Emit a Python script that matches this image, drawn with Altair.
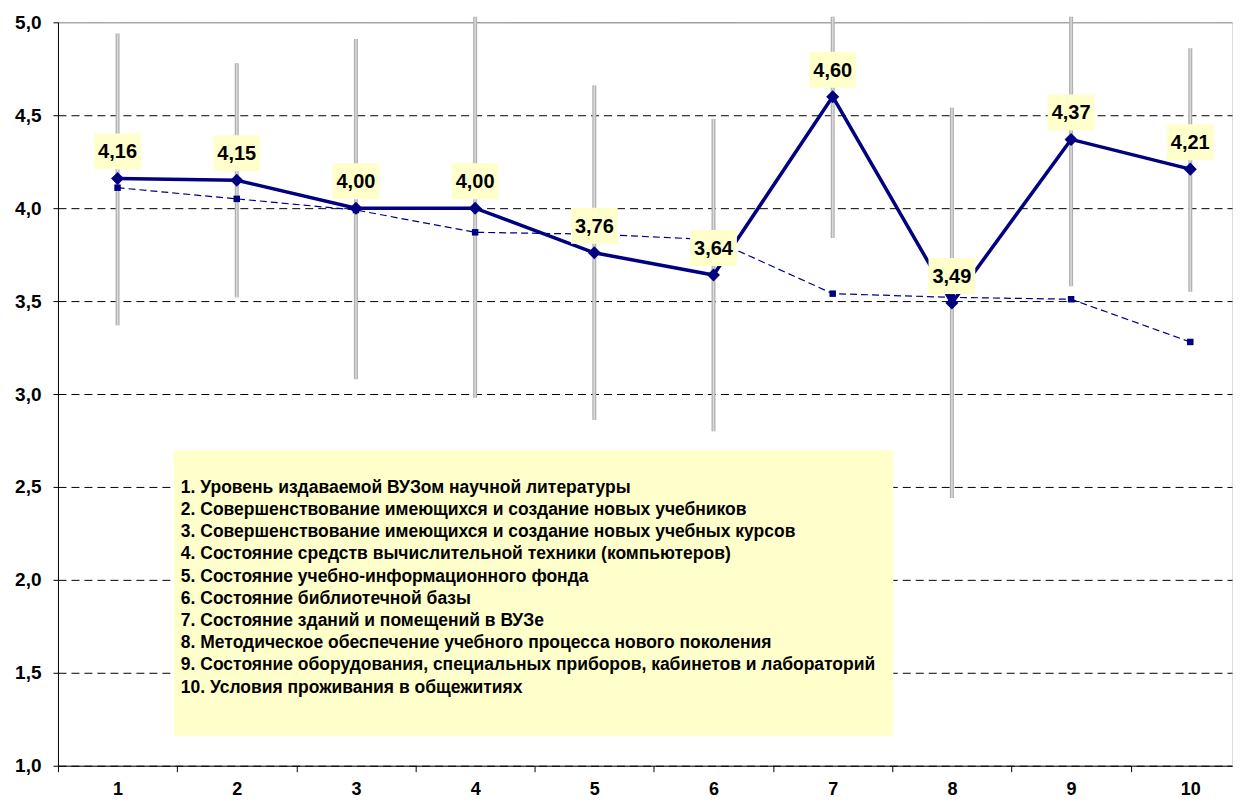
import altair as alt
import pandas as pd

# ---- data ----
categories = [1, 2, 3, 4, 5, 6, 7, 8, 9, 10]
current = [4.16, 4.15, 4.00, 4.00, 3.76, 3.64, 4.60, 3.49, 4.37, 4.21]
previous = [4.11, 4.05, 3.99, 3.87, 3.86, 3.83, 3.54, 3.52, 3.51, 3.28]
range_low = [3.37, 3.52, 3.08, 2.98, 2.86, 2.80, 3.84, 2.44, 3.58, 3.55]
range_high = [4.94, 4.78, 4.91, 5.03, 4.66, 4.48, 5.03, 4.54, 5.03, 4.86]
y_ticks = [1.0, 1.5, 2.0, 2.5, 3.0, 3.5, 4.0, 4.5, 5.0]
x_boundaries = [0.5, 1.5, 2.5, 3.5, 4.5, 5.5, 6.5, 7.5, 8.5, 9.5]
legend_lines = [
    "1. Уровень издаваемой ВУЗом научной литературы",
    "2. Совершенствование имеющихся и создание новых учебников",
    "3. Совершенствование имеющихся и создание новых учебных курсов",
    "4. Состояние средств вычислительной техники (компьютеров)",
    "5. Состояние учебно-информационного фонда",
    "6. Состояние библиотечной базы",
    "7. Состояние зданий и помещений в ВУЗе",
    "8. Методическое обеспечение учебного процесса нового поколения",
    "9. Состояние оборудования, специальных приборов, кабинетов и лабораторий",
    "10. Условия проживания в общежитиях",
]

df = pd.DataFrame({
    "cat": categories,
    "cur": current,
    "prev": previous,
    "lo": range_low,
    "hi": range_high,
})

FONT = "Liberation Sans"
NAVY = "#000080"
W, H = 1175, 744

x_axis = alt.Axis(
    values=sorted(x_boundaries + categories),
    labelExpr="datum.value % 1 === 0 ? format(datum.value, 'd') : ''",
    tickOpacity={"condition": {"test": "datum.value % 1 === 0", "value": 0}, "value": 1},
    grid=False, title=None, domainColor="black", tickColor="black",
    tickSize=6, labelPadding=9, labelFontSize=18, labelFontWeight="bold",
    labelFont=FONT, labelColor="black",
)
x_enc = alt.X("cat:Q", scale=alt.Scale(domain=[0.5, 10.35], nice=False, zero=False), axis=x_axis)

y_axis = alt.Axis(
    values=y_ticks,
    labelExpr="replace(format(datum.value, '.1f'), '.', ',')",
    grid=True,
    gridColor={"condition": {"test": "datum.value === 5", "value": "#808080"}, "value": "black"},
    gridDash={"condition": {"test": "datum.value === 5", "value": [1, 0]}, "value": [8, 5]},
    gridWidth=1, title=None, domainColor="black", tickColor="black",
    tickSize=5, labelPadding=12, labelFontSize=19, labelFontWeight="bold",
    labelFont=FONT, labelColor="black",
)
y_scale = alt.Scale(domain=[1, 5], nice=False, zero=False)

base = alt.Chart(df).encode(x=x_enc)

bars = base.mark_rule(color="#b0b0b0", strokeWidth=4).encode(
    y=alt.Y("lo:Q", scale=y_scale, axis=y_axis), y2="hi:Q")
bars_core = base.mark_rule(color="#dadada", strokeWidth=1.5).encode(
    y=alt.Y("lo:Q", scale=y_scale), y2="hi:Q")

prev_line = base.mark_line(color=NAVY, strokeWidth=1.2, strokeDash=[7, 4]).encode(
    y=alt.Y("prev:Q", scale=y_scale))
prev_pts = base.mark_point(shape="square", filled=True, size=42, color=NAVY, opacity=1).encode(
    y=alt.Y("prev:Q", scale=y_scale))

cur_line = base.mark_line(color=NAVY, strokeWidth=3.5).encode(
    y=alt.Y("cur:Q", scale=y_scale))
cur_pts = base.mark_point(shape="diamond", filled=True, size=170, color=NAVY, opacity=1).encode(
    y=alt.Y("cur:Q", scale=y_scale))

label_box = base.mark_point(
    shape="M-1.3,-1L1.3,-1L1.3,1L-1.3,1Z", filled=True, size=1296,
    fill="#ffffcc", strokeWidth=0, opacity=1, yOffset=-27,
).encode(y=alt.Y("cur:Q", scale=y_scale))
label_text = base.transform_calculate(
    lab="replace(format(datum.cur, '.2f'), '.', ',')"
).mark_text(
    font=FONT, fontSize=20, fontWeight="bold", color="black",
    baseline="middle", align="center", yOffset=-26,
).encode(y=alt.Y("cur:Q", scale=y_scale), text="lab:N")

note = pd.DataFrame({"k": [0]})
legend_box = alt.Chart(note).mark_rect(color="#ffffcc", opacity=1).encode(
    x=alt.value(116), x2=alt.value(836), y=alt.value(428), y2=alt.value(714))
legend_text = alt.Chart(note).mark_text(
    font=FONT, fontSize=17.5, fontWeight="bold", color="black",
    align="left", baseline="top", lineHeight=22.2,
).encode(x=alt.value(123), y=alt.value(457), text=alt.value(legend_lines))

chart = alt.layer(
    bars, bars_core, prev_line, prev_pts, cur_line, cur_pts,
    label_box, label_text, legend_box, legend_text,
).properties(
    width=W, height=H,
    padding={"left": 6, "top": 5, "right": 2, "bottom": 0},
).configure_view(stroke=None).configure(background="white")

chart.save("out.html", embed_options={"renderer": "svg", "actions": False})
